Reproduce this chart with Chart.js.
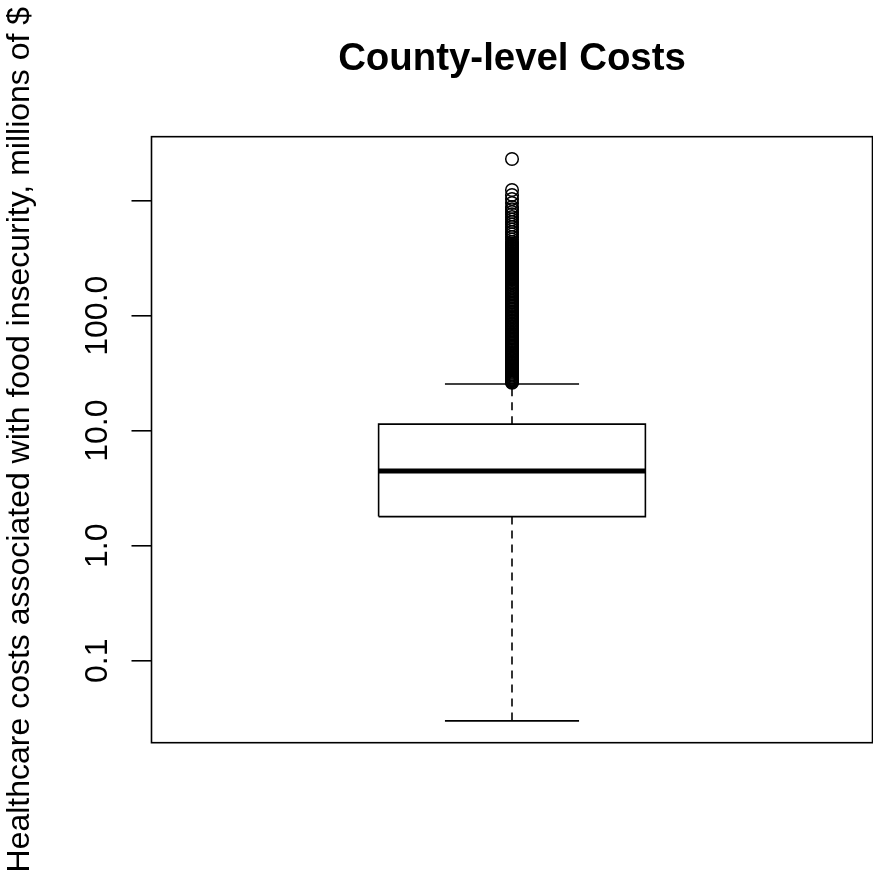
<!DOCTYPE html>
<html>
<head>
<meta charset="utf-8">
<title>County-level Costs</title>
<script src="https://cdn.jsdelivr.net/npm/chart.js@4.4.1/dist/chart.umd.min.js"></script>
<style>
  html, body { margin: 0; padding: 0; background: #fff; }
  canvas { display: block; }
</style>
</head>
<body>
<canvas id="costs" width="873" height="876"></canvas>
<script>
// box stats: lower whisker, Q1, median, Q3, upper whisker (millions of $)
var boxStats = [0.03, 1.79, 4.46, 11.4, 25.5];

// outliers above the upper whisker
var outliers = [
  26.1, 26.4, 26.9, 27.3, 27.8, 28.2, 28.9, 29.4, 30.1, 30.7, 31.2, 31.9, 32.6, 33.4, 34.1,
  34.8, 35.6, 36.5, 37.2, 38.1, 39.0, 39.8, 40.9, 41.8, 42.7, 43.9, 45.0, 46.1, 47.3, 48.4,
  49.8, 51.0, 52.3, 53.9, 55.2, 56.7, 58.3, 59.8, 61.5, 63.2, 64.8, 66.9, 68.7, 70.4, 72.6,
  74.5, 76.9, 79.1, 81.3, 83.8, 86.0, 88.7, 91.2, 94.0, 96.8, 99.5, 102.7, 105.6, 108.9,
  112.3, 115.4, 119.2, 122.8, 126.5, 130.4, 134.7, 138.6, 143.1, 147.8, 152.4, 157.3, 162.5,
  167.9, 173.0, 178.6, 184.9, 191.2, 197.5, 204.3, 207.6, 211.0, 214.8, 218.4, 222.0, 225.9,
  229.4, 233.1, 237.5, 241.6, 245.8, 250.2, 254.3, 258.7, 263.5, 268.0, 272.6, 277.4, 282.5,
  287.9, 293.0, 298.2, 303.7, 309.5, 315.1, 321.0, 327.2, 333.8, 339.9, 346.2, 352.8, 359.7,
  366.5, 374.0, 381.6, 389.5, 397.1, 404.8, 412.6, 421.0, 437, 460, 484, 509, 535, 562, 591,
  620, 653, 687, 721, 760, 797, 840, 882, 955, 1036, 1122, 1239, 2305
];

var tickValues = [0.1, 1, 10, 100, 1000];
var tickLabels = ["0.1", "1.0", "10.0", "100.0", ""];

var titleText = "County-level Costs";
var yLabel = "Healthcare costs associated with food insecurity, millions of $";

var FONT = "'Liberation Sans', Arial, Helvetica, sans-serif";
var mid = 0.5, boxHalf = 0.185, capHalf = 0.093;

function seg(x1, y1, x2, y2) {
  return [{x: x1, y: y1}, {x: x2, y: y2}];
}

var lineBase = {
  type: 'line', showLine: true, fill: false, pointRadius: 0,
  borderColor: '#000', borderWidth: 1.6, order: 1
};

var datasets = [
  Object.assign({}, lineBase, {
    data: [
      {x: mid - boxHalf, y: boxStats[1]}, {x: mid + boxHalf, y: boxStats[1]},
      {x: mid + boxHalf, y: boxStats[3]}, {x: mid - boxHalf, y: boxStats[3]},
      {x: mid - boxHalf, y: boxStats[1]}
    ],
    borderJoinStyle: 'miter'
  }),
  Object.assign({}, lineBase, { data: seg(mid - boxHalf, boxStats[2], mid + boxHalf, boxStats[2]), borderWidth: 5 }),
  Object.assign({}, lineBase, { data: seg(mid, boxStats[3], mid, boxStats[4]), borderDash: [8, 6] }),
  Object.assign({}, lineBase, { data: seg(mid, boxStats[1], mid, boxStats[0]), borderDash: [8, 6] }),
  Object.assign({}, lineBase, { data: seg(mid - capHalf, boxStats[4], mid + capHalf, boxStats[4]) }),
  Object.assign({}, lineBase, { data: seg(mid - capHalf, boxStats[0], mid + capHalf, boxStats[0]) }),
  {
    type: 'scatter',
    data: outliers.map(function (v) { return {x: mid, y: v}; }),
    pointStyle: 'circle',
    pointRadius: 6.3,
    pointBorderWidth: 1.5,
    pointBorderColor: '#000',
    pointBackgroundColor: 'rgba(0,0,0,0)',
    order: 0
  }
];

// frame, rotated tick labels and axis title, drawn with the scale's own pixel mapping
var rPlot = {
  id: 'rPlot',
  afterDraw: function (chart) {
    var ctx = chart.ctx, a = chart.chartArea, y = chart.scales.y;
    ctx.save();
    ctx.strokeStyle = '#000';
    ctx.lineWidth = 1.6;
    ctx.strokeRect(a.left, a.top, a.right - a.left, a.bottom - a.top);

    ctx.fillStyle = '#000';
    ctx.font = '32px ' + FONT;
    ctx.textAlign = 'center';
    ctx.textBaseline = 'alphabetic';
    tickValues.forEach(function (v, i) {
      if (!tickLabels[i]) return;
      ctx.save();
      ctx.translate(107, y.getPixelForValue(v));
      ctx.rotate(-Math.PI / 2);
      ctx.fillText(tickLabels[i], 0, 0);
      ctx.restore();
    });

    ctx.save();
    ctx.translate(29, (a.top + a.bottom) / 2);
    ctx.rotate(-Math.PI / 2);
    ctx.fillText(yLabel, 0, 0);
    ctx.restore();
    ctx.restore();
  }
};

new Chart("costs", {
  type: 'scatter',
  data: { datasets: datasets },
  plugins: [rPlot],
  options: {
    responsive: false,
    animation: false,
    devicePixelRatio: 1,
    events: [],
    layout: { autoPadding: false, padding: { left: 0, right: 0.5, top: 0, bottom: 133.3 } },
    plugins: {
      legend: { display: false },
      tooltip: { enabled: false },
      title: {
        display: true,
        text: titleText,
        fullSize: false,
        color: '#000',
        font: { family: FONT, size: 38.4, weight: 'bold', lineHeight: 1.2 },
        padding: { top: 36, bottom: 54.6 }
      }
    },
    scales: {
      x: { type: 'linear', min: 0, max: 1, display: false },
      y: {
        type: 'logarithmic',
        min: 0.01936,
        max: 3603,
        afterFit: function (s) { s.width = 151.5; },
        afterBuildTicks: function (s) {
          s.ticks = tickValues.map(function (v) { return {value: v}; });
        },
        ticks: { display: false },
        border: { display: false },
        grid: {
          display: true,
          drawOnChartArea: false,
          drawTicks: true,
          tickLength: 20,
          color: '#000',
          lineWidth: 1.6
        }
      }
    }
  }
});
</script>
</body>
</html>
